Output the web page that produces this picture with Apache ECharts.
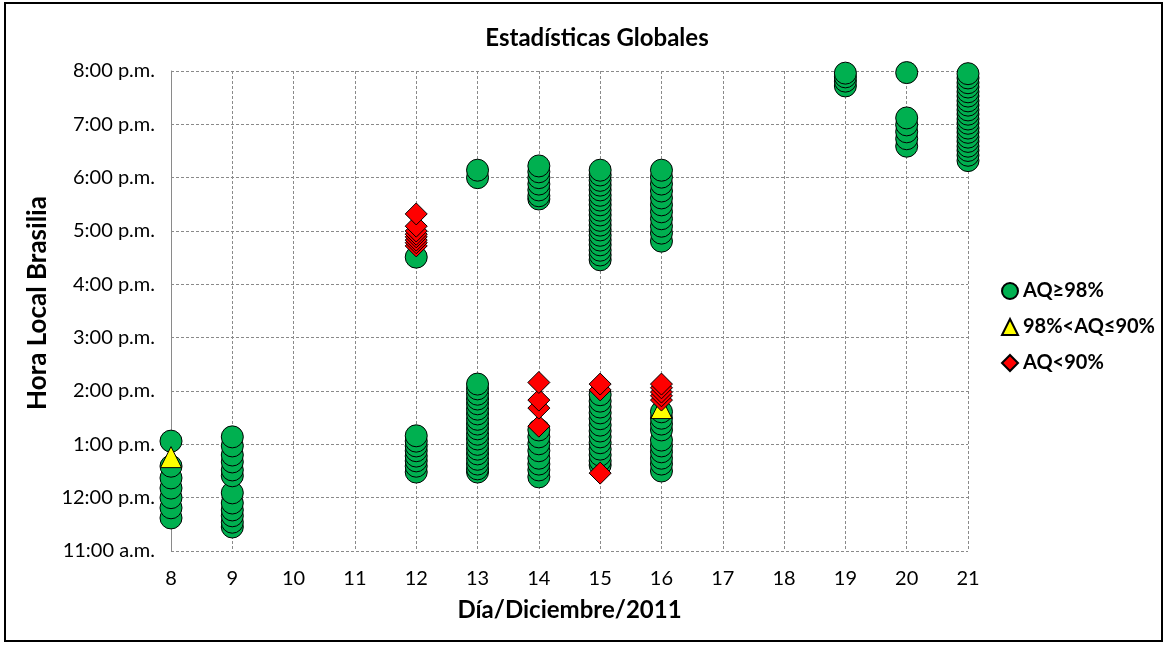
<!DOCTYPE html>
<html>
<head>
<meta charset="utf-8">
<script src="https://cdn.jsdelivr.net/npm/echarts@6/dist/echarts.min.js"></script>
<style>
html,body{margin:0;padding:0;background:#fff;}
#chart{width:1167px;height:645px;}
</style>
</head>
<body>
<div id="chart"></div>
<script>
// Days of December 2011 (x) and local hour in decimal hours (y)
const days = [8, 9, 12, 13, 14, 15, 16, 19, 20, 21];
const dayTicks = [8, 9, 10, 11, 12, 13, 14, 15, 16, 17, 18, 19, 20, 21];
const hourTicks = [11, 12, 13, 14, 15, 16, 17, 18, 19, 20];

// AQ >= 98% (green circles), one list per day in `days`
const greenTimes = [
  [11.62, 11.81, 12.0, 12.18, 12.37, 12.59, 13.06],
  [11.45, 11.54, 11.66, 11.77, 11.9, 12.09, 12.41, 12.52, 12.67, 12.8, 12.97, 13.14],
  [12.48, 12.59, 12.69, 12.78, 12.88, 12.97, 13.06, 13.16, 16.51],
  [12.48, 12.54, 12.63, 12.72, 12.82, 12.91, 13.0, 13.1, 13.19, 13.29, 13.38, 13.47, 13.57, 13.66, 13.76, 13.85, 13.94, 14.04, 14.13, 18.0, 18.14],
  [12.39, 12.52, 12.63, 12.74, 12.88, 13.01, 13.14, 13.27, 17.6, 17.66, 17.77, 17.88, 18.0, 18.11, 18.22],
  [12.61, 12.69, 12.8, 12.91, 13.03, 13.14, 13.25, 13.36, 13.48, 13.59, 13.7, 13.81, 13.93, 16.46, 16.55, 16.64, 16.74, 16.83, 16.92, 17.02, 17.11, 17.2, 17.3, 17.39, 17.49, 17.58, 17.67, 17.77, 17.86, 17.95, 18.05, 18.14],
  [12.5, 12.63, 12.74, 12.86, 12.97, 13.08, 13.27, 13.38, 13.49, 13.61, 16.81, 16.96, 17.09, 17.23, 17.36, 17.49, 17.62, 17.75, 17.88, 18.01, 18.14],
  [19.72, 19.81, 19.89, 19.96],
  [18.59, 18.73, 18.86, 18.99, 19.12, 19.97],
  [18.32, 18.42, 18.51, 18.59, 18.68, 18.76, 18.85, 18.93, 19.02, 19.1, 19.19, 19.27, 19.36, 19.44, 19.53, 19.61, 19.7, 19.78, 19.87, 19.95]
];
// 98% < AQ <= 90% (yellow triangles)
const yellowDays = [8, 16];
const yellowTimes = [12.76, 13.68];
// AQ < 90% (red diamonds)
const redDays = [12, 12, 12, 12, 12, 12, 12, 12, 14, 14, 14, 14, 15, 15, 15, 16, 16, 16, 16, 16];
const redTimes = [16.72, 16.78, 16.83, 16.89, 16.94, 17.0, 17.09, 17.32, 13.34, 13.68, 13.83, 14.16, 12.46, 14.02, 14.13, 13.83, 13.91, 13.98, 14.06, 14.13];

const seriesNames = ['AQ≥98%', '98%<AQ≤90%', 'AQ<90%'];

const greenData = [];
days.forEach((d, i) => greenTimes[i].forEach(t => greenData.push([d, t])));
const yellowData = yellowDays.map((d, i) => [d, yellowTimes[i]]);
const redData = redDays.map((d, i) => [d, redTimes[i]]);

function fmtHour(h) {
  const hh = Math.round(h);
  if (hourTicks.indexOf(hh) < 0 || Math.abs(h - hh) > 1e-6) return '';
  const h12 = (hh % 12) || 12;
  return h12 + ':00 ' + (hh < 12 ? 'a.m.' : 'p.m.');
}

const FONT = 'Lato, "Open Sans", sans-serif';
const gridLine = { show: true, lineStyle: { color: '#8a8a8a', type: [3, 2], width: 1 } };

const chart = echarts.init(document.getElementById('chart'), null, { renderer: 'canvas' });
chart.setOption({
  backgroundColor: '#ffffff',
  animation: false,
  title: {
    text: 'Estadísticas Globales',
    left: 592, top: 21, textAlign: 'center',
    textStyle: { fontFamily: FONT, fontWeight: 'bold', fontSize: 24, color: '#000' }
  },
  grid: { left: 171, right: 199, top: 71, bottom: 94, containLabel: false },
  xAxis: {
    type: 'value', min: 8, max: 21, interval: 1,
    name: 'Día/Diciembre/2011', nameLocation: 'middle', nameGap: 47,
    nameTextStyle: { fontFamily: FONT, fontWeight: 'bold', fontSize: 24, color: '#000' },
    axisLine: { show: false },
    axisTick: { show: false },
    axisLabel: { fontFamily: FONT, fontSize: 20, color: '#000', margin: 18,
      formatter: v => (dayTicks.indexOf(v) >= 0 ? String(v) : '') },
    splitLine: gridLine
  },
  yAxis: {
    type: 'value', min: 11, max: 20, interval: 1,
    name: 'Hora Local Brasilia', nameLocation: 'middle', nameGap: 119,
    nameTextStyle: { fontFamily: FONT, fontWeight: 'bold', fontSize: 26, color: '#000', padding: [0, 0, 0, 16] },
    axisLine: { show: true, onZero: false, lineStyle: { color: '#8a8a8a', width: 1 } },
    axisTick: { show: false },
    axisLabel: { fontFamily: FONT, fontSize: 20, color: '#000', margin: 16, formatter: fmtHour },
    splitLine: gridLine
  },
  legend: {
    orient: 'vertical', left: 996, top: 276, itemGap: 16, itemWidth: 16, itemHeight: 16,
    textStyle: { fontFamily: FONT, fontWeight: 'bold', fontSize: 20, color: '#000' },
    data: seriesNames
  },
  series: [
    { name: seriesNames[0], type: 'scatter', symbol: 'circle', symbolSize: 22, data: greenData,
      itemStyle: { color: '#00B050', borderColor: '#000', borderWidth: 1, opacity: 1 } },
    { name: seriesNames[1], type: 'scatter', symbol: 'triangle', symbolSize: 21, data: yellowData,
      itemStyle: { color: '#FFFF00', borderColor: '#000', borderWidth: 1, opacity: 1 } },
    { name: seriesNames[2], type: 'scatter', symbol: 'diamond', symbolSize: 22, data: redData,
      itemStyle: { color: '#FF0000', borderColor: '#000', borderWidth: 1, opacity: 1 } }
  ],
  graphic: [
    { type: 'rect', silent: true, shape: { x: 5, y: 3, width: 1157, height: 638 },
      style: { fill: 'none', stroke: '#000', lineWidth: 2 } }
  ]
});
</script>
</body>
</html>
